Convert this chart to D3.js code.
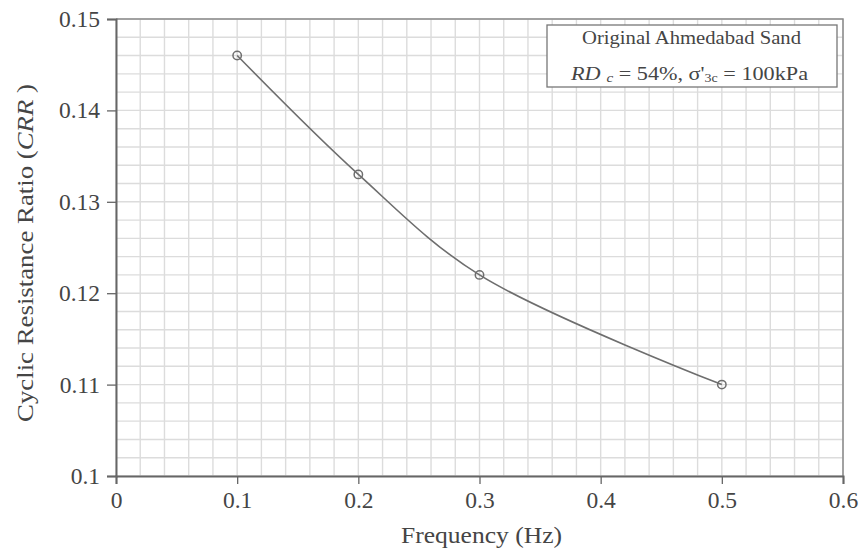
<!DOCTYPE html>
<html>
<head>
<meta charset="utf-8">
<script src="https://cdn.jsdelivr.net/npm/d3@7"></script>
<style>
  body { margin: 0; background: #fff; }
  svg { display: block; font-family: "Liberation Serif", "DejaVu Serif", serif; }
</style>
</head>
<body>
<svg id="chart" width="863" height="552"></svg>
<script>
// Frequency (Hz) and cyclic resistance ratio measured at each frequency
const frequency = [0.1, 0.2, 0.3, 0.5];
const crr = [0.146, 0.133, 0.122, 0.110];
const xTickValues = [0, 0.1, 0.2, 0.3, 0.4, 0.5, 0.6];
const yTickValues = [0.1, 0.11, 0.12, 0.13, 0.14, 0.15];

const svg = d3.select("#chart");
const margin = { left: 116, top: 19, right: 20, bottom: 76 };
const W = 863, H = 552;
const textColor = "#454545";
const x = d3.scaleLinear().domain([0, 0.6]).range([margin.left, W - margin.right]);
const y = d3.scaleLinear().domain([0.1, 0.15]).range([H - margin.bottom, margin.top]);

// Minor grid: x every 0.02, y every 0.002
const xGrid = d3.range(0, 0.6001, 0.02);
const yGrid = d3.range(0.1, 0.15001, 0.002);
const grid = svg.append("g").attr("stroke", "#dcdcdc").attr("stroke-width", 1.4);
grid.selectAll("line.gx").data(xGrid).join("line")
  .attr("x1", d => x(d)).attr("x2", d => x(d))
  .attr("y1", y.range()[1]).attr("y2", y.range()[0]);
grid.selectAll("line.gy").data(yGrid).join("line")
  .attr("y1", d => y(d)).attr("y2", d => y(d))
  .attr("x1", x.range()[0]).attr("x2", x.range()[1]);

// Top and right frame
svg.append("path")
  .attr("d", `M${x.range()[0]},${y.range()[1]}H${x.range()[1]}V${y.range()[0]}`)
  .attr("fill", "none").attr("stroke", "#8a8a8a").attr("stroke-width", 1.5);

// Axes
const xAxis = svg.append("g")
  .attr("transform", `translate(0,${y.range()[0]})`)
  .call(d3.axisBottom(x).tickValues(xTickValues).tickFormat(d3.format("")).tickSize(8).tickPadding(7));
const yAxis = svg.append("g")
  .attr("transform", `translate(${x.range()[0]},0)`)
  .call(d3.axisLeft(y).tickValues(yTickValues).tickFormat(d => d3.format("")(+d.toFixed(3))).tickSize(9).tickPadding(7));
[xAxis, yAxis].forEach(a => {
  a.select(".domain").attr("stroke", "#666").attr("stroke-width", 2);
  a.selectAll(".tick line").attr("stroke", "#666").attr("stroke-width", 1.3);
  a.selectAll(".tick text").attr("fill", textColor).attr("font-size", 23.5)
    .attr("font-family", "'Liberation Serif', serif");
});

// Axis titles
svg.append("text")
  .attr("x", 481.5).attr("y", 543)
  .attr("text-anchor", "middle").attr("font-size", 23).attr("fill", textColor)
  .attr("textLength", 161).attr("lengthAdjust", "spacingAndGlyphs")
  .text("Frequency (Hz)");
const yt = svg.append("text")
  .attr("transform", `translate(33,253) rotate(-90)`)
  .attr("text-anchor", "middle").attr("font-size", 23).attr("fill", textColor)
  .attr("textLength", 338).attr("lengthAdjust", "spacingAndGlyphs");
yt.append("tspan").text("Cyclic Resistance Ratio (");
yt.append("tspan").attr("font-style", "italic").text("CRR");
yt.append("tspan").text(" )");

// Data curve and markers
const pts = frequency.map((f, i) => [f, crr[i]]);
svg.append("path")
  .datum(pts)
  .attr("d", d3.line().x(d => x(d[0])).y(d => y(d[1])).curve(d3.curveCatmullRom.alpha(0.5)))
  .attr("fill", "none").attr("stroke", "#6e6e6e").attr("stroke-width", 1.6);
svg.selectAll("circle.pt").data(pts).join("circle")
  .attr("cx", d => x(d[0])).attr("cy", d => y(d[1])).attr("r", 4.2)
  .attr("fill", "none").attr("stroke", "#6e6e6e").attr("stroke-width", 1.5);

// Legend box
const lg = svg.append("g");
lg.append("rect").attr("x", 547).attr("y", 25).attr("width", 290).attr("height", 62)
  .attr("fill", "#fff").attr("stroke", "#777").attr("stroke-width", 1.3);
lg.append("text").attr("x", 691.5).attr("y", 44).attr("text-anchor", "middle")
  .attr("font-size", 19).attr("fill", textColor)
  .attr("textLength", 219).attr("lengthAdjust", "spacingAndGlyphs")
  .text("Original Ahmedabad Sand");
const l2 = lg.append("text").attr("x", 689.5).attr("y", 80).attr("text-anchor", "middle")
  .attr("font-size", 19).attr("fill", textColor)
  .attr("textLength", 237).attr("lengthAdjust", "spacingAndGlyphs");
l2.append("tspan").attr("font-style", "italic").text("RD");
l2.append("tspan").attr("font-size", 13).attr("dy", 2).attr("dx", 5).attr("font-style", "italic").text("c");
l2.append("tspan").attr("dy", -2).text(" = 54%,  σ'");
l2.append("tspan").attr("font-size", 12).attr("dy", 2).text("3c");
l2.append("tspan").attr("dy", -2).text(" = 100kPa");
</script>
</body>
</html>
